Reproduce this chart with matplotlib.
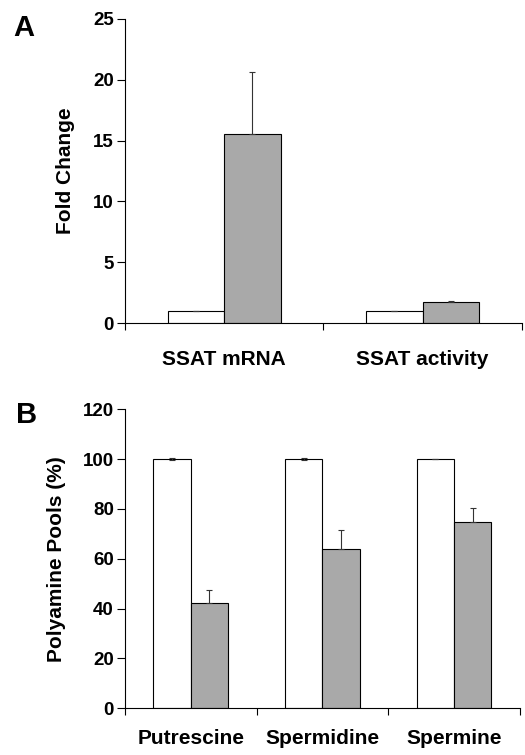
import numpy as np
import matplotlib
matplotlib.use("Agg")
import matplotlib.pyplot as plt

plt.rcParams['font.family'] = ['Liberation Sans', 'DejaVu Sans']
plt.rcParams['font.weight'] = 'bold'

# Panel A data
catA = ['SSAT mRNA', 'SSAT activity']
ctrlA = [1.0, 1.0]
ctrlA_err = [0.0, 0.0]
trtA = [15.5, 1.7]
trtA_err = [5.1, 0.15]

# Panel B data
catB = ['Putrescine', 'Spermidine', 'Spermine']
ctrlB = [100.0, 100.0, 100.0]
ctrlB_err = [0.3, 0.3, 0.0]
trtB = [42.3, 63.8, 74.7]
trtB_err = [5.2, 7.7, 5.6]

gray = '#a9a9a9'
w = 0.284


def panel(ax, cats, ctrl, ctrl_err, trt, trt_err, ymax, ystep, ylabel, letter, lpad, lx, ly, cpad):
    n = len(cats)
    x = np.arange(n) + 0.5
    ax.bar(x - w / 2, ctrl, w, color='white', edgecolor='black', linewidth=0.8,
           yerr=ctrl_err, error_kw=dict(ecolor='#333333', elinewidth=0.8, capsize=2.5, capthick=0.8))
    ax.bar(x + w / 2, trt, w, color=gray, edgecolor='black', linewidth=0.8,
           yerr=[np.zeros(n), trt_err],
           error_kw=dict(ecolor='#333333', elinewidth=0.8, capsize=2.5, capthick=0.8))
    ax.set_xlim(0, n)
    ax.set_ylim(0, ymax)
    ax.set_yticks(np.arange(0, ymax + 0.1, ystep))
    ax.set_xticks(np.arange(0, n + 1))
    ax.set_xticklabels([])
    ax.set_xticks(x, minor=True)
    ax.set_xticklabels(cats, minor=True, fontsize=15, fontweight='bold')
    ax.tick_params(axis='x', which='minor', length=0, pad=cpad)
    ax.tick_params(axis='x', which='major', length=5, direction='out', width=0.8)
    ax.tick_params(axis='y', length=6, width=0.8, labelsize=13.5, pad=2)
    for lab in ax.get_yticklabels():
        lab.set_fontweight('bold')
    ax.spines['top'].set_visible(False)
    ax.spines['right'].set_visible(False)
    ax.spines['left'].set_linewidth(0.8)
    ax.spines['bottom'].set_linewidth(0.8)
    ax.set_ylabel(ylabel, fontsize=15, fontweight='bold', labelpad=lpad)
    ax.text(lx, ly, letter, transform=ax.transAxes, fontsize=21,
            fontweight='bold', va='center', ha='center')


fig = plt.figure(figsize=(5.25, 7.55), dpi=100)
axA = fig.add_axes([0.238, 0.572, 0.756, 0.403])
axB = fig.add_axes([0.238, 0.062, 0.752, 0.396])

panel(axA, catA, ctrlA, ctrlA_err, trtA, trtA_err, 25, 5, 'Fold Change', 'A',
      13, -0.254, 0.97, 19)
panel(axB, catB, ctrlB, ctrlB_err, trtB, trtB_err, 120, 20, 'Polyamine Pools (%)', 'B',
      12, -0.248, 0.98, 15)

fig.savefig('out.png', dpi=100)
